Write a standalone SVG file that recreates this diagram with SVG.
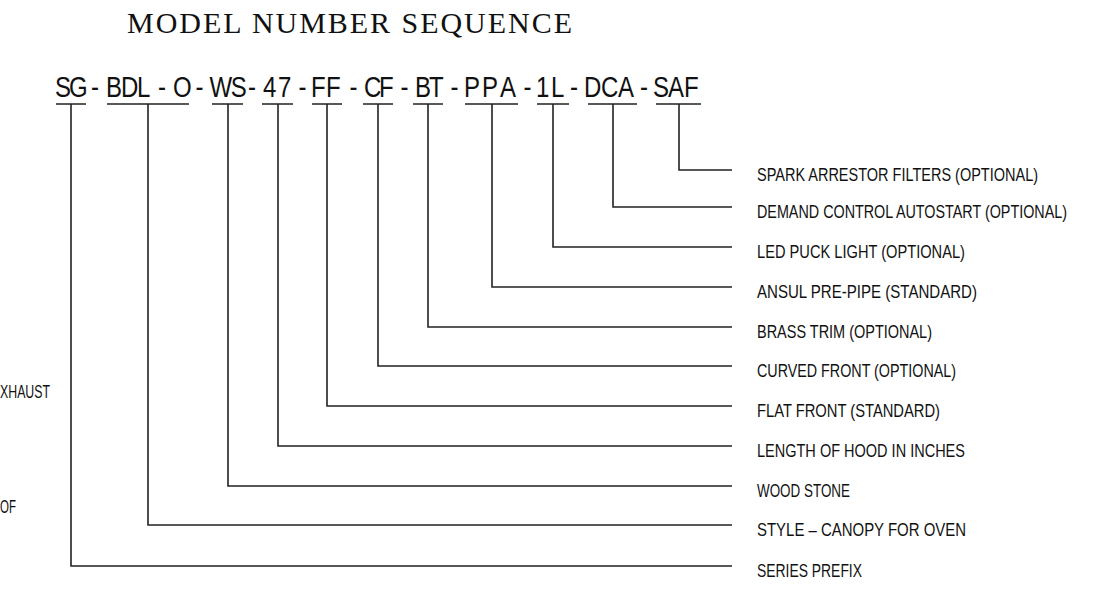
<svg xmlns="http://www.w3.org/2000/svg" width="1106" height="600" viewBox="0 0 1106 600">
<style>
.bg{fill:#ffffff}
.title{font-family:"Liberation Serif","Times New Roman",serif;font-size:30px;fill:#111}
.code{font-family:"Liberation Sans",Arial,sans-serif;font-size:30px;fill:#111}
.lbl{font-family:"Liberation Sans",Arial,sans-serif;font-size:19px;fill:#111}
.ln{fill:none;stroke:#222;stroke-width:1.6}
</style>
<rect class="bg" x="0" y="0" width="1106" height="600"/>
<g id="title">
<text class="title" x="127" y="33" textLength="445" lengthAdjust="spacing">MODEL NUMBER SEQUENCE</text>
</g>
<g id="code">
<text class="code" transform="scale(0.8 1)" y="97" x="68.75 86.25 113.75 132.5 151.25 171.25 197.5 216.25 244.38 262 288.5 310 328.75 347.5 373.13 388.75 407.5 436.88 455 473.75 500.63 518.75 536.25 563.13 580 602.5 625 654.38 670 688.75 712.5 730 751.25 772.5 800 816.25 835 855">SG-BDL-O-WS-47-FF-CF-BT-PPA-1L-DCA-SAF</text>
</g>
<g id="connectors">
<path class="ln" d="M56 104H86 M71 104V566H732"/>
<path class="ln" d="M107 104H189 M148 104V525H732"/>
<path class="ln" d="M212 104H243 M228 104V486H732"/>
<path class="ln" d="M262 104H293 M278 104V446H732"/>
<path class="ln" d="M312 104H342 M327 104V406H732"/>
<path class="ln" d="M363 104H393 M378 104V366H732"/>
<path class="ln" d="M413 104H443 M428 104V327H732"/>
<path class="ln" d="M465 104H518 M492 104V287H732"/>
<path class="ln" d="M537 104H569 M553 104V247H732"/>
<path class="ln" d="M588 104H637 M613 104V207H732"/>
<path class="ln" d="M656 104H701 M679 104V170H732"/>
</g>
<g id="label-saf"><text class="lbl" transform="translate(757 181) scale(0.75 1)" textLength="374.7" lengthAdjust="spacingAndGlyphs">SPARK ARRESTOR FILTERS (OPTIONAL)</text></g>
<g id="label-dca"><text class="lbl" transform="translate(757 218) scale(0.75 1)" textLength="413.3" lengthAdjust="spacingAndGlyphs">DEMAND CONTROL AUTOSTART (OPTIONAL)</text></g>
<g id="label-1l"><text class="lbl" transform="translate(757 258) scale(0.75 1)" textLength="277.3" lengthAdjust="spacingAndGlyphs">LED PUCK LIGHT (OPTIONAL)</text></g>
<g id="label-ppa"><text class="lbl" transform="translate(757 298) scale(0.75 1)" textLength="293.3" lengthAdjust="spacingAndGlyphs">ANSUL PRE-PIPE (STANDARD)</text></g>
<g id="label-bt"><text class="lbl" transform="translate(757 338) scale(0.75 1)" textLength="233.3" lengthAdjust="spacingAndGlyphs">BRASS TRIM (OPTIONAL)</text></g>
<g id="label-cf"><text class="lbl" transform="translate(757 377) scale(0.75 1)" textLength="265.3" lengthAdjust="spacingAndGlyphs">CURVED FRONT (OPTIONAL)</text></g>
<g id="label-ff"><text class="lbl" transform="translate(757 417) scale(0.75 1)" textLength="244" lengthAdjust="spacingAndGlyphs">FLAT FRONT (STANDARD)</text></g>
<g id="label-47"><text class="lbl" transform="translate(757 457) scale(0.75 1)" textLength="277.3" lengthAdjust="spacingAndGlyphs">LENGTH OF HOOD IN INCHES</text></g>
<g id="label-ws"><text class="lbl" transform="translate(757 497) scale(0.75 1)" textLength="124" lengthAdjust="spacingAndGlyphs">WOOD STONE</text></g>
<g id="label-bdl"><text class="lbl" transform="translate(757 536) scale(0.75 1)" textLength="278.7" lengthAdjust="spacingAndGlyphs">STYLE – CANOPY FOR OVEN</text></g>
<g id="label-sg"><text class="lbl" transform="translate(757 577) scale(0.75 1)" textLength="140" lengthAdjust="spacingAndGlyphs">SERIES PREFIX</text></g>
<g id="left-cut">
<text class="lbl" transform="translate(0 398) scale(0.75 1)" textLength="66.7" lengthAdjust="spacingAndGlyphs">XHAUST</text>
<text class="lbl" transform="translate(0 513) scale(0.75 1)" textLength="21.3" lengthAdjust="spacingAndGlyphs">OF</text>
</g>
</svg>
